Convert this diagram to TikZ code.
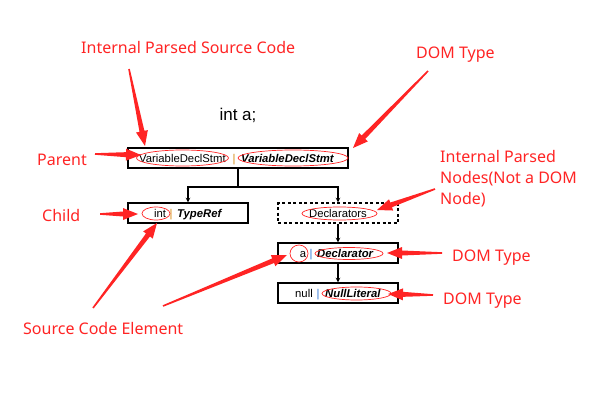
\documentclass[tikz,border=0pt]{standalone}
\usepackage{fontspec}
\setmainfont{Liberation Sans}
\newfontfamily\notefont{Noto Sans}
\usetikzlibrary{calc}
\definecolor{notered}{RGB}{255,36,36}
\definecolor{barorange}{RGB}{214,140,20}
\definecolor{barblue}{RGB}{50,120,215}

% red annotation pointer: tail, tip
\newcommand\pointer[2]{%
  \path ($(#2)!15pt!(#1)$) coordinate (neck);
  \fill[notered] ($(#1)!0.8pt!90:(#2)$) -- ($(neck)!2.5pt!90:(#2)$) -- ($(neck)!6pt!90:(#2)$) -- (#2)
    -- ($(neck)!6pt!-90:(#2)$) -- ($(neck)!2.5pt!-90:(#2)$) -- ($(#1)!0.8pt!-90:(#2)$) -- cycle;}

\begin{document}
\begin{tikzpicture}[x=1pt,y=-1pt,>=stealth,
    box/.style={draw,line width=1.1pt,minimum width=#1,minimum height=20,inner sep=0pt},
    txt/.style={inner sep=0pt,text height=8.2,text depth=0,font=\fontsize{11.3}{13}\selectfont},
    dom/.style={txt,font=\fontsize{11.3}{13}\selectfont\bfseries\itshape},
    ring/.style={draw=notered,line width=0.7pt},
    note/.style={notered,inner sep=0pt,font=\notefont\fontsize{16}{21}\selectfont}]
        \useasboundingbox (0,0) rectangle (594,409);

        \node[inner sep=0pt,font=\fontsize{17}{20}\selectfont] (code) at (238,115) {int a;};

        % tree boxes
        \node[box=220] (stmt) at (238,158) {};
        \node[box=120] (typeref) at (188,213) {};
        \node[box=120,dashed,dash pattern=on 3pt off 2.5pt] (decls) at (338,213) {};
        \node[box=120] (decl) at (338,253) {};
        \node[box=120] (null) at (338,293) {};

        \coordinate (fork) at (238,187);
        \draw[line width=1.1pt] (stmt.south) -- (fork);
        \draw[line width=1.1pt,->] (fork) -| (typeref.north);
        \draw[line width=1.1pt,->] (fork) -| (decls.north);
        \draw[line width=1.1pt,->] (decls.south) -- (decl.north);
        \draw[line width=1.1pt,->] (decl.south) -- (null.north);

        % box texts
        \node[txt,anchor=west] (stmtsrc) at (139,158) {VariableDeclStmt};
        \node[txt,barorange] at (234,158) {|};
        \node[dom,anchor=west] (stmtdom) at (241,158) {VariableDeclStmt};
        \node[txt,anchor=west] (intsrc) at (154,213) {int};
        \node[txt,barorange] at (171,213) {|};
        \node[dom,anchor=west] (intdom) at (177,213) {TypeRef};
        \node[txt] (declstxt) at (338,213) {Declarators};
        \node[txt] (asrc) at (303,253) {a};
        \node[txt,barblue] at (311,253) {|};
        \node[dom,anchor=west] (adom) at (317,253) {Declarator};
        \node[txt,anchor=west] (nullsrc) at (295,293) {null};
        \node[txt,barblue] at (318,293) {|};
        \node[dom,anchor=west] (nulldom) at (325,293) {NullLiteral};

        % red rings
        \draw[ring] (182.5,158) ellipse [x radius=46,y radius=8];
        \draw[ring] (293,158) ellipse [x radius=55,y radius=8];
        \draw[ring] (156,213.5) ellipse [x radius=14,y radius=6.5];
        \draw[ring] (339.5,213.5) ellipse [x radius=37.5,y radius=6.5];
        \draw[ring] (299,253.5) ellipse [x radius=9,y radius=8.5];
        \draw[ring] (349,253.5) ellipse [x radius=34,y radius=6];
        \draw[ring] (356.5,293.5) ellipse [x radius=34.5,y radius=6.5];

        % notes
        \node[note,anchor=base west] (ipsc) at (81,53.5) {Internal Parsed Source Code};
        \node[note,anchor=base west] (domtop) at (416,59) {DOM Type};
        \node[note,anchor=base west] (parent) at (37,165) {Parent};
        \node[note,anchor=base west] (child) at (42,221) {Child};
        \node[note,anchor=base west] (sce) at (23,334) {Source Code Element};
        \node[note,anchor=north west,align=left] (ipn) at (440,150) {Internal Parsed\\Nodes(Not a DOM\\Node)};
        \node[note,anchor=base west] (domdecl) at (452,261) {DOM Type};
        \node[note,anchor=base west] (domnull) at (443,304) {DOM Type};

        % pointer ends
        \coordinate (ipsc-t) at (129,69);   \coordinate (ipsc-h) at (145,146);
        \coordinate (domtop-t) at (428,71); \coordinate (domtop-h) at (353,148);
        \coordinate (parent-t) at (95,154); \coordinate (parent-h) at (141,155);
        \coordinate (child-t) at (100,214); \coordinate (child-h) at (138,214);
        \coordinate (sce-t) at (93,308);    \coordinate (sce-h) at (157,223);
        \coordinate (sceb-t) at (163,306);  \coordinate (sceb-h) at (287,255);
        \coordinate (ipn-t) at (435,189);   \coordinate (ipn-h) at (377,210);
        \coordinate (domdecl-t) at (442,253); \coordinate (domdecl-h) at (387,253);
        \coordinate (domnull-t) at (433,295); \coordinate (domnull-h) at (388,294);

        \pointer{ipsc-t}{ipsc-h}
        \pointer{domtop-t}{domtop-h}
        \pointer{parent-t}{parent-h}
        \pointer{child-t}{child-h}
        \pointer{sce-t}{sce-h}
        \pointer{sceb-t}{sceb-h}
        \pointer{ipn-t}{ipn-h}
        \pointer{domdecl-t}{domdecl-h}
        \pointer{domnull-t}{domnull-h}
      \end{tikzpicture}
\end{document}
